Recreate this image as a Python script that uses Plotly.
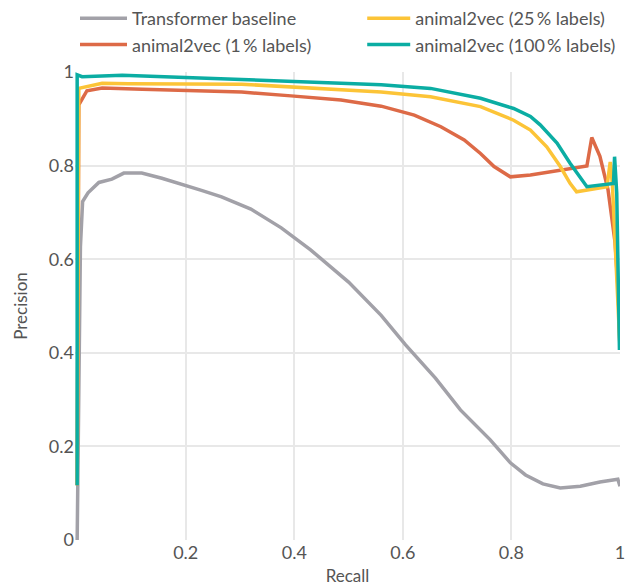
import plotly.graph_objects as go

# Transformer baseline
base_recall = [0.0, 0.006, 0.01, 0.02, 0.04, 0.064, 0.086, 0.119, 0.156, 0.2, 0.229, 0.266, 0.32, 0.376, 0.43, 0.5, 0.56, 0.605, 0.66, 0.706, 0.761, 0.798, 0.826, 0.858, 0.89, 0.927, 0.963, 0.996, 1.0]
base_prec = [0.0, 0.627, 0.723, 0.742, 0.764, 0.771, 0.784, 0.784, 0.773, 0.758, 0.747, 0.733, 0.707, 0.667, 0.62, 0.551, 0.48, 0.417, 0.346, 0.278, 0.214, 0.165, 0.139, 0.12, 0.111, 0.115, 0.124, 0.13, 0.115]

# animal2vec 1 % labels
a1_recall = [0.0, 0.003, 0.018, 0.046, 0.12, 0.23, 0.303, 0.394, 0.486, 0.56, 0.621, 0.67, 0.713, 0.743, 0.768, 0.798, 0.835, 0.939, 0.948, 0.963, 0.978, 0.991, 0.997, 1.0]
a1_prec = [0.117, 0.93, 0.96, 0.966, 0.963, 0.959, 0.957, 0.949, 0.94, 0.927, 0.908, 0.883, 0.855, 0.826, 0.798, 0.776, 0.78, 0.799, 0.86, 0.82, 0.748, 0.635, 0.527, 0.406]

# animal2vec 25 % labels
a25_recall = [0.0, 0.003, 0.046, 0.095, 0.303, 0.43, 0.56, 0.651, 0.743, 0.804, 0.835, 0.865, 0.89, 0.908, 0.92, 0.976, 0.982, 0.986, 1.0]
a25_prec = [0.117, 0.965, 0.976, 0.975, 0.974, 0.966, 0.957, 0.947, 0.926, 0.897, 0.876, 0.84, 0.798, 0.762, 0.744, 0.755, 0.808, 0.76, 0.41]

# animal2vec 100 % labels
a100_recall = [0.0, 0.0, 0.009, 0.083, 0.303, 0.56, 0.651, 0.743, 0.804, 0.835, 0.853, 0.884, 0.908, 0.939, 0.988, 0.99, 0.994, 0.999]
a100_prec = [0.117, 0.994, 0.99, 0.993, 0.984, 0.973, 0.965, 0.944, 0.922, 0.905, 0.887, 0.848, 0.805, 0.755, 0.762, 0.819, 0.741, 0.406]

names = ["Transformer baseline", "animal2vec (1\u2009% labels)", "animal2vec (25\u2009% labels)", "animal2vec (100\u2009% labels)"]
colors = ["#a2a1a8", "#dd6a47", "#fcc437", "#0bada3"]
legends = ["legend", "legend", "legend2", "legend2"]
ranks = [1, 2, 1, 2]

series = [(base_recall, base_prec), (a1_recall, a1_prec), (a25_recall, a25_prec), (a100_recall, a100_prec)]

fig = go.Figure()
for (xs, ys), name, col, lg, rk in zip(series, names, colors, legends, ranks):
    fig.add_trace(go.Scatter(x=xs, y=ys, mode="lines", name=name,
                             line=dict(color=col, width=3.5),
                             legend=lg, legendrank=rk))

font_family = "Lato, 'Open Sans', sans-serif"
txt = "#555555"

fig.update_layout(
    width=631, height=588,
    margin=dict(l=75, r=11, t=72, b=48, autoexpand=False),
    plot_bgcolor="white", paper_bgcolor="white",
    font=dict(family=font_family, color=txt, size=17),
    showlegend=True,
    legend=dict(x=0.0, y=1.0, xanchor="left", yanchor="top", xref="paper", yref="container",
                orientation="v", font=dict(size=18, color=txt), bgcolor="rgba(0,0,0,0)",
                tracegroupgap=0, itemwidth=47),
    legend2=dict(x=0.527, y=1.0, xanchor="left", yanchor="top", xref="paper", yref="container",
                 orientation="v", font=dict(size=18, color=txt), bgcolor="rgba(0,0,0,0)",
                 tracegroupgap=0, itemwidth=43),
    xaxis=dict(range=[-0.004, 1.0], tickvals=[0.2, 0.4, 0.6, 0.8, 1.0], ticktext=["0.2", "0.4", "0.6", "0.8", "1"],
               showgrid=True, gridcolor="#e8e8e8", gridwidth=1.5, zeroline=False, showline=False, automargin=False,
               title=dict(text="Recall", standoff=8, font=dict(size=17)), ticks="", tickfont=dict(size=18)),
    yaxis=dict(range=[0.0, 1.0], tickvals=[0, 0.2, 0.4, 0.6, 0.8, 1.0], ticktext=["0", "0.2", "0.4", "0.6", "0.8", "1"],
               showgrid=True, gridcolor="#e8e8e8", gridwidth=1.5, zeroline=False, showline=False, automargin=False,
               title=dict(text="Precision", standoff=16, font=dict(size=17)), ticks="", tickfont=dict(size=18)),
)

fig.write_html("out.html")
